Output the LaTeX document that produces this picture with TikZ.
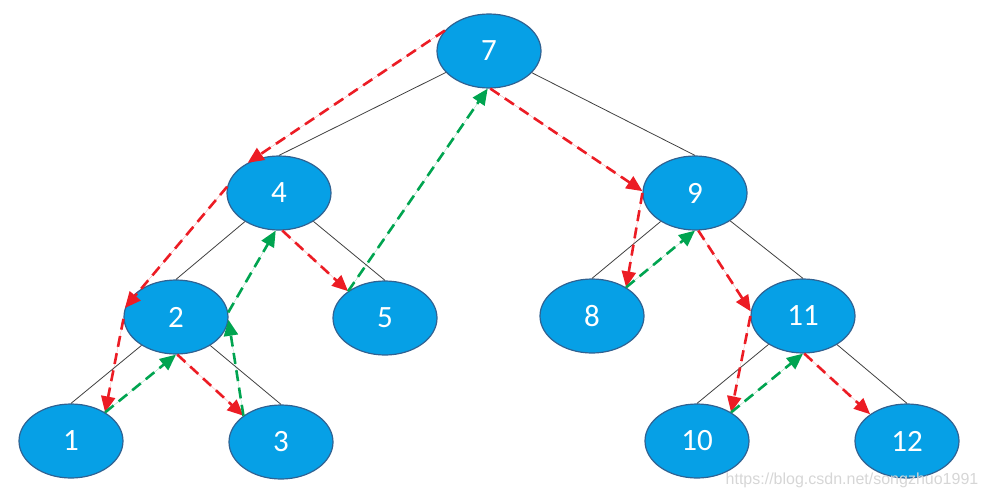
\documentclass[tikz,border=0pt]{standalone}
\usepackage{fontspec}
\setmainfont{Carlito}
\newfontfamily\marcafont{Liberation Sans}
\usetikzlibrary{arrows.meta,shapes.geometric}
\definecolor{azulnodo}{RGB}{6,160,230}
\definecolor{bordenodo}{RGB}{48,98,146}
\definecolor{rojoflecha}{RGB}{236,28,36}
\definecolor{verdeflecha}{RGB}{0,164,80}
\tikzset{
  nodo/.style={ellipse, draw=bordenodo, line width=1.2pt, fill=azulnodo, text=white,
    minimum width=104pt, minimum height=74pt, inner sep=0pt, font=\fontsize{31}{31}\selectfont},
  arista/.style={draw=black!75, line width=0.8pt},
  baja/.style={draw=rojoflecha, fill=rojoflecha, line width=2.6pt, dash pattern=on 11pt off 6.5pt,
    -{Triangle[length=16pt,width=14pt]}},
  sube/.style={draw=verdeflecha, fill=verdeflecha, line width=2.6pt, dash pattern=on 11pt off 6.5pt,
    -{Triangle[length=16pt,width=14pt]}},
  marca/.style={text=black!16, font=\marcafont\fontsize{16}{16}\selectfont}
}
\begin{document}
\begin{tikzpicture}[x=1pt,y=-1pt]
        \useasboundingbox (0,0) rectangle (985,499);

        % Nodos
        \node[nodo] (n7) at (489,51) {7};
        \node[nodo] (n4) at (279,193) {4};
        \node[nodo] (n9) at (695,193) {9};
        \node[nodo] (n2) at (176,317) {2};
        \node[nodo] (n5) at (385,318) {5};
        \node[nodo] (n8) at (592,316) {8};
        \node[nodo] (n11) at (803,316) {11};
        \node[nodo] (n1) at (71,441) {1};
        \node[nodo] (n3) at (281,442) {3};
        \node[nodo] (n10) at (697,441) {10};
        \node[nodo] (n12) at (907,441) {12};

        % Aristas
        \draw[arista] (n7) -- (n4.north);
        \draw[arista] (n7) -- (n9.north);
        \draw[arista] (n4) -- (n2.north);
        \draw[arista] (n4) -- (n5.north);
        \draw[arista] (n2) -- (n1.north);
        \draw[arista] (n2) -- (n3.north);
        \draw[arista] (n9) -- (n8.north);
        \draw[arista] (n9) -- (n11.north);
        \draw[arista] (n11) -- (n10.north);
        \draw[arista] (n11) -- (n12.north);

        % Recorrido (bajada)
        \draw[baja] (n7.155) -- (n4.136);
        \draw[baja] (n4.173) -- (n2.170);
        \draw[baja] (n2.182) -- (n1.40);
        \draw[baja] (n2.-88) -- (n3.145);
        \draw[baja] (n4.-85) -- (n5.144);
        \draw[baja] (n7.-88) -- (n9.178);
        \draw[baja] (n9.180) -- (n8.40);
        \draw[baja] (n9.-85) -- (n11.175);
        \draw[baja] (n11.180) -- (n10.40);
        \draw[baja] (n11.-88) -- (n12.144);

        % Recorrido (subida)
        \draw[sube] (n1.40) -- (n2.-90);
        \draw[sube] (n3.145) -- (n2.-3);
        \draw[sube] (n2.5) -- (n4.-95);
        \draw[sube] (n5.144) -- (n7.-92);
        \draw[sube] (n8.40) -- (n9.-90);
        \draw[sube] (n10.40) -- (n11.-90);

        % Marca de agua
        \node[marca] (marca) at (852,480) {https://blog.csdn.net/songzhuo1991};
    \end{tikzpicture}
\end{document}
